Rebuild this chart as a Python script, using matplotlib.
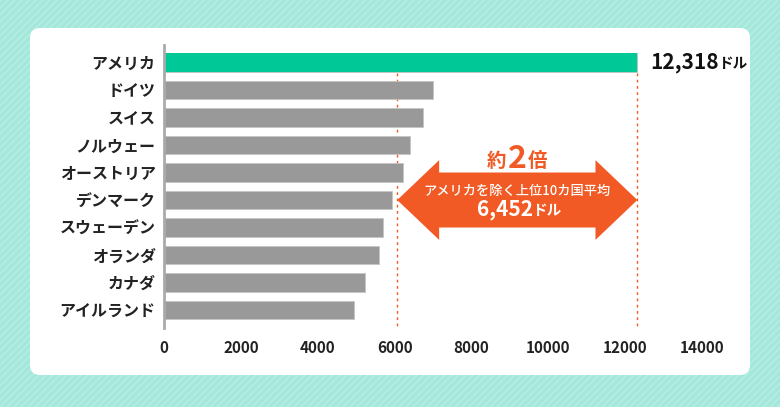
import matplotlib.pyplot as plt
from matplotlib.patches import FancyBboxPatch, Polygon
import numpy as np

plt.rcParams['font.family'] = ['Noto Sans CJK JP', 'DejaVu Sans']

countries = ['アメリカ', 'ドイツ', 'スイス', 'ノルウェー', 'オーストリア',
             'デンマーク', 'スウェーデン', 'オランダ', 'カナダ', 'アイルランド']
values = [12318, 7000, 6750, 6390, 6210, 5940, 5710, 5600, 5240, 4950]
xticks = [0, 2000, 4000, 6000, 8000, 10000, 12000, 14000]
avg_line = 6070      # where the dashed "average" line sits in the picture
avg_label = '6,452'
top_label = '12,318'

GREEN = '#00c896'
GRAY = '#999999'
ORANGE = '#f15a24'
MINT = '#a4e8db'

fig = plt.figure(figsize=(7.8, 4.07), dpi=100)

# background: mint with thin diagonal stripes and a white rounded card
bg = fig.add_axes([0, 0, 1, 1])
bg.set_xlim(0, 780)
bg.set_ylim(407, 0)
bg.axis('off')
bg.add_patch(plt.Rectangle((0, 0), 780, 407, color=MINT, zorder=0))
for c in np.arange(-420, 800, 7):
    bg.plot([c, c + 420], [407, -13], color='white', alpha=0.3, lw=0.7, zorder=1)
bg.add_patch(FancyBboxPatch((30, 28), 720, 347,
                            boxstyle='round,pad=0,rounding_size=10',
                            fc='white', ec='none', zorder=2))

ax = fig.add_axes([164 / 780, 0.1943, 538 / 780, 0.6961])
ax.patch.set_alpha(0)
y = np.arange(len(countries))
colors = [GREEN] + [GRAY] * (len(countries) - 1)
ax.barh(y, values, height=0.67, color=colors, edgecolor='#c4c4c4', linewidth=0.6, zorder=2)
ax.barh(y[:1], values[:1], height=0.67, color=GREEN, zorder=3)

ax.set_xlim(0, 14000)
ax.set_ylim(len(countries) - 0.35, -0.65)
ax.set_yticks(y)
ax.set_yticklabels(countries, fontsize=11.5, fontweight='bold', color='#222222')
ax.set_xticks(xticks)
ax.set_xticklabels([str(t) for t in xticks], fontsize=11, fontweight='bold', color='#222222')
ax.tick_params(axis='y', length=0, pad=6)
ax.tick_params(axis='x', length=0, pad=9)
for s in ['top', 'right', 'bottom']:
    ax.spines[s].set_visible(False)
ax.spines['left'].set_color('#aaaaaa')
ax.spines['left'].set_linewidth(2)
ax.spines['left'].set_zorder(4)

# dashed reference lines
for xv in [avg_line, values[0]]:
    ax.plot([xv, xv], [0.38, len(countries) - 0.35], color=ORANGE, lw=1,
            ls=(0, (2, 2.5)), zorder=1)

# double-headed arrow between the two lines
yc = 5.0
head = 1090
shaft, wing = 1.0, 1.45
x0, x1 = avg_line, values[0]
arrow = Polygon([(x0, yc), (x0 + head, yc - wing), (x0 + head, yc - shaft),
                 (x1 - head, yc - shaft), (x1 - head, yc - wing), (x1, yc),
                 (x1 - head, yc + wing), (x1 - head, yc + shaft),
                 (x0 + head, yc + shaft), (x0 + head, yc + wing)],
                closed=True, fc=ORANGE, ec='none', zorder=5)
ax.add_patch(arrow)
xm = (x0 + x1) / 2

two = ax.text(xm, 3.83, '2', fontsize=23, fontweight='bold', color=ORANGE,
              ha='center', va='baseline', zorder=6)
ax.annotate('約', xy=(0, 0), xycoords=two, fontsize=14, fontweight='bold',
            color=ORANGE, ha='right', va='bottom', xytext=(-1, 2.5),
            textcoords='offset points')
ax.annotate('倍', xy=(1, 0), xycoords=two, fontsize=14, fontweight='bold',
            color=ORANGE, ha='left', va='bottom', xytext=(1, 2.5),
            textcoords='offset points')

ax.text(xm, 4.66, 'アメリカを除く上位10カ国平均', fontsize=9.5, fontweight='medium',
        color='white', ha='center', va='center', zorder=6)
avg = ax.annotate(avg_label, xy=(xm, 5.33), xytext=(-9, 0), textcoords='offset points',
                  fontsize=15, fontweight='bold', color='white',
                  ha='center', va='center', zorder=6)
ax.annotate('ドル', xy=(1, 0), xycoords=avg, fontsize=10.5, fontweight='bold',
            color='white', ha='left', va='bottom', xytext=(-0.5, 1.5),
            textcoords='offset points', zorder=6)

top = ax.annotate(top_label, xy=(values[0], 0), xytext=(9, 0), textcoords='offset points',
                  fontsize=15, fontweight='bold', color='#111111',
                  ha='left', va='center', annotation_clip=False)
ax.annotate('ドル', xy=(1, 0), xycoords=top, fontsize=10.5, fontweight='bold',
            color='#111111', ha='left', va='bottom', xytext=(-0.5, 1.5),
            textcoords='offset points', annotation_clip=False)

fig.savefig('out.png', dpi=100)
